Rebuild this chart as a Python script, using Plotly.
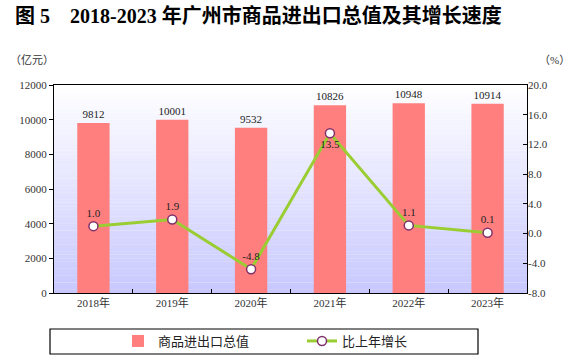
import plotly.graph_objects as go

years = ["2018年", "2019年", "2020年", "2021年", "2022年", "2023年"]
trade_value = [9812, 10001, 9532, 10826, 10948, 10914]
growth = [1.0, 1.9, -4.8, 13.5, 1.1, 0.1]
growth_pos = ["top center", "top center", "top center", "bottom center", "top center", "top center"]

left_ticks = [0, 2000, 4000, 6000, 8000, 10000, 12000]
right_ticks = [-8, -4, 0, 4, 8, 12, 16, 20]

SERIF = "Liberation Serif, Times New Roman, Noto Sans CJK SC, serif"
CJK = "Liberation Serif, Noto Sans CJK SC, serif"

fig = go.Figure()
fig.add_trace(go.Bar(
    x=years, y=trade_value, name="商品进出口总值",
    marker=dict(color="#ff7f7f", line=dict(width=0)),
    text=[str(v) for v in trade_value], textposition="outside",
    textfont=dict(family=SERIF, size=11, color="#222"),
    cliponaxis=False, width=0.41,
))
fig.add_trace(go.Scatter(
    x=years, y=growth, name="比上年增长", yaxis="y2",
    mode="lines+markers+text",
    line=dict(color="#9acd32", width=3),
    marker=dict(symbol="circle", size=9, color="white",
                line=dict(color="#80306a", width=1.5)),
    text=[f"{v:.1f}" for v in growth], textposition=growth_pos,
    textfont=dict(family=SERIF, size=11, color="#222"),
    cliponaxis=False,
))

# gradient background of the plot area
shapes = []
n = 60
top = (255, 255, 255)
bot = (200, 200, 255)
for i in range(n):
    t = (i + 0.5) / n
    c = tuple(round(top[k] + (bot[k] - top[k]) * t) for k in range(3))
    shapes.append(dict(type="rect", xref="paper", yref="paper",
                       x0=0, x1=1, y0=1 - (i + 1) / n, y1=1 - i / n + 0.001,
                       fillcolor=f"rgb{c}", line=dict(width=0), layer="below"))
# legend frame
shapes.append(dict(type="rect", xref="paper", yref="paper",
                   x0=(50 - 54) / 473, x1=(478 - 54) / 473,
                   y0=(293 - 354) / 208, y1=(293 - 329) / 208,
                   line=dict(color="black", width=1.2), fillcolor="rgba(0,0,0,0)"))

fig.update_layout(
    width=582, height=363,
    margin=dict(l=54, r=55, t=85, b=70, autoexpand=False),
    paper_bgcolor="white", plot_bgcolor="white",
    shapes=shapes,
    bargap=0.59,
    showlegend=True,
    legend=dict(orientation="h", x=(118 - 54) / 473, xanchor="left",
                y=(293 - 341) / 208, yanchor="middle",
                font=dict(family=CJK, size=13, color="#222"),
                entrywidth=139, entrywidthmode="pixels",
                bgcolor="rgba(0,0,0,0)", traceorder="normal"),
    title=dict(text="图 5\u00a0\u00a0\u00a0 2018-2023 年广州市商品进出口总值及其增长速度",
               x=15 / 582, xanchor="left", xref="container",
               y=1 - 16 / 363, yanchor="middle", yref="container",
               font=dict(family=CJK, size=20, color="black", weight="bold")),
    xaxis=dict(type="category", showline=True, linecolor="black", linewidth=1.2,
               mirror=True, ticks="inside", tickson="boundaries", ticklen=4,
               tickcolor="black", showgrid=False,
               tickfont=dict(family=CJK, size=11, color="#333")),
    yaxis=dict(range=[0, 12000], tickvals=left_ticks, ticktext=[str(v) for v in left_ticks],
               showline=True, linecolor="black",
               linewidth=1.2, mirror=True, ticks="outside", ticklen=4, tickcolor="black",
               showgrid=False, zeroline=False,
               tickfont=dict(family=SERIF, size=11, color="#333")),
    yaxis2=dict(range=[-8, 20], tickvals=right_ticks, ticktext=[f"{v:.1f}" for v in right_ticks],
                overlaying="y", side="right", showline=False, ticks="inside", ticklen=4,
                tickcolor="black", showgrid=False, zeroline=False,
                tickfont=dict(family=SERIF, size=11, color="#333")),
    annotations=[
        dict(text="（亿元）", xref="paper", yref="paper", x=(8 - 54) / 473, y=(293 - 60) / 208,
             xanchor="left", yanchor="middle", showarrow=False,
             font=dict(family=CJK, size=11, color="#333")),
        dict(text="（%）", xref="paper", yref="paper", x=(572 - 54) / 473, y=(293 - 60) / 208,
             xanchor="right", yanchor="middle", showarrow=False,
             font=dict(family=CJK, size=11, color="#333")),
    ],
)

fig.write_html("out.html", config={"displayModeBar": False},
               post_script="document.body.style.margin='0';document.body.style.overflow='hidden';")
